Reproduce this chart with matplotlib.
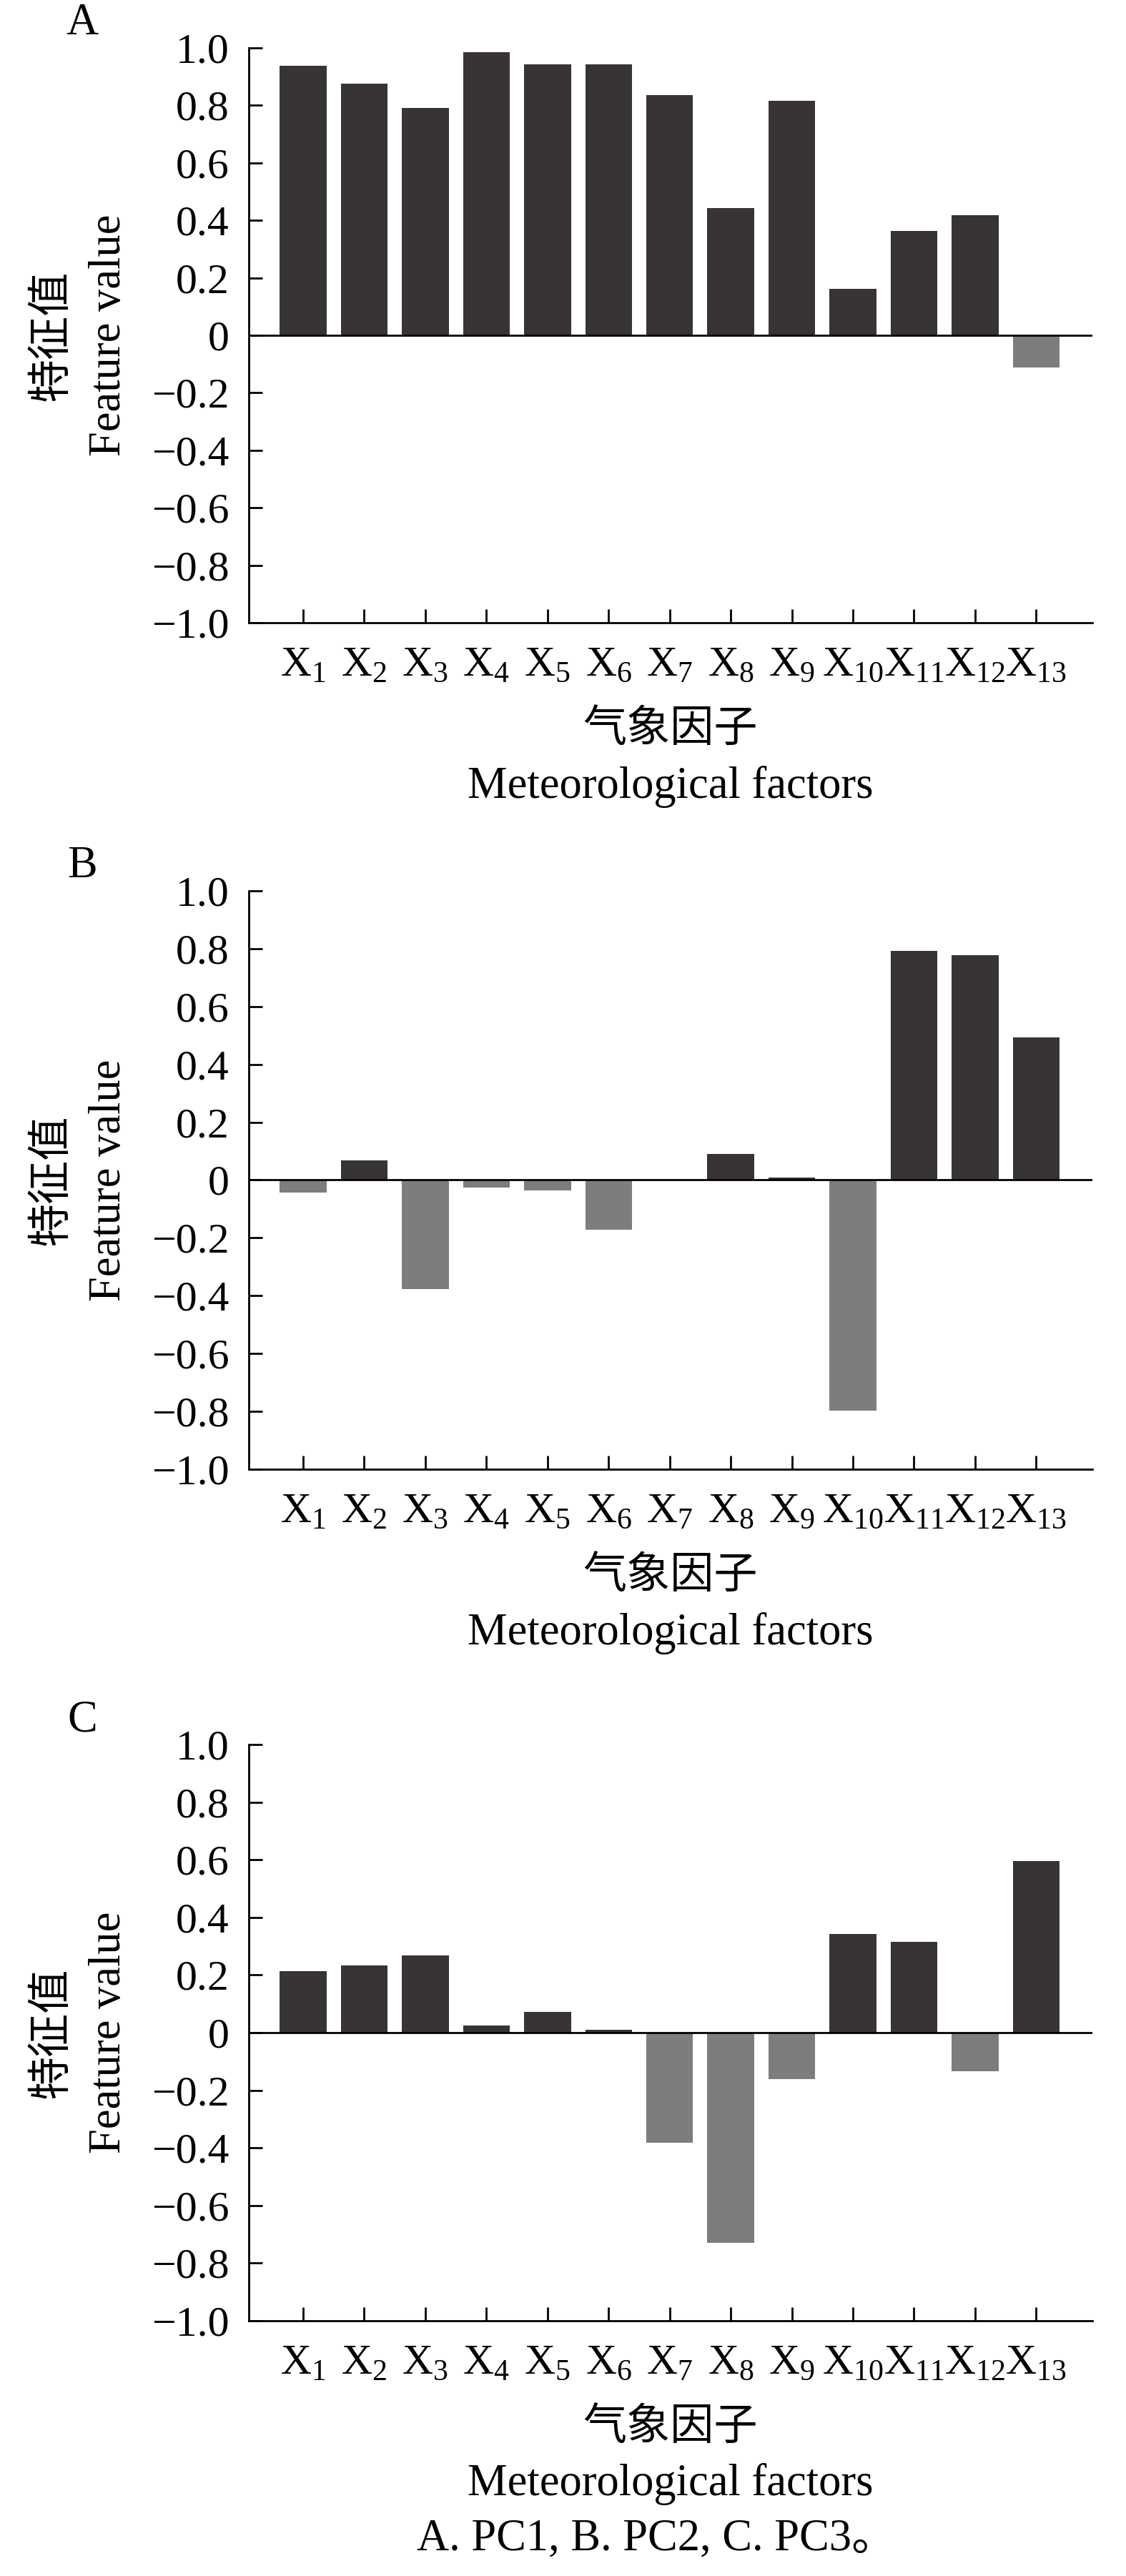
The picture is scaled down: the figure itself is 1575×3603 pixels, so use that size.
import matplotlib
matplotlib.use('Agg')
import matplotlib.pyplot as plt
import numpy as np

plt.rcParams['font.family'] = ['Liberation Serif', 'Noto Sans CJK SC']
plt.rcParams['mathtext.fontset'] = 'custom'
plt.rcParams['mathtext.rm'] = 'Liberation Serif'
plt.rcParams['axes.unicode_minus'] = True

# data
factors = ['X%d' % i for i in range(1, 14)]
pc1 = [0.939, 0.875, 0.791, 0.986, 0.944, 0.943, 0.837, 0.443, 0.817, 0.162, 0.363, 0.418, -0.113]
pc2 = [-0.044, 0.069, -0.376, -0.025, -0.036, -0.171, 0.0, 0.089, 0.009, -0.797, 0.793, 0.777, 0.492]
pc3 = [0.213, 0.234, 0.267, 0.025, 0.073, 0.010, -0.381, -0.730, -0.162, 0.342, 0.315, -0.135, 0.595]
panels = ['A', 'B', 'C']
yticks = [1.0, 0.8, 0.6, 0.4, 0.2, 0.0, -0.2, -0.4, -0.6, -0.8, -1.0]
ytick_labels = ['1.0', '0.8', '0.6', '0.4', '0.2', '0', '\u22120.2', '\u22120.4',
                '\u22120.6', '\u22120.8', '\u22121.0']
caption = 'A. PC1, B. PC2, C. PC3\u3002'

pos_color = '#383435'
neg_color = '#7e7c7d'

W, H = 1575, 3603
left, right = 348, 1528
tops = [67, 1246, 2440]
bottoms = [871, 2055, 3246]

fig = plt.figure(figsize=(W / 100, H / 100), dpi=100)

for k, vals in enumerate([pc1, pc2, pc3]):
    top, bot = tops[k], bottoms[k]
    ax = fig.add_axes([left / W, 1 - bot / H, (right - left) / W, (bot - top) / H])
    x = np.arange(len(factors))
    v = np.array(vals)
    colors = [pos_color if a >= 0 else neg_color for a in v]
    ax.bar(x, v, width=0.765, color=colors, zorder=2)
    ax.axhline(0, color='black', lw=2.0, zorder=3)
    ax.set_xlim(-0.89, 12.92)
    ax.set_ylim(-1.0, 1.0)
    ax.set_yticks(yticks)
    ax.set_yticklabels(ytick_labels)
    ax.set_xticks(x)
    ax.set_xticklabels([r'$\mathrm{X}_{%s}$' % f[1:] for f in factors])
    for s in ['top', 'right']:
        ax.spines[s].set_visible(False)
    for s in ['left', 'bottom']:
        ax.spines[s].set_linewidth(2.0)
    ax.tick_params(axis='both', direction='in', length=13.5, width=2.0, labelsize=43)
    ax.tick_params(axis='y', pad=20)
    ax.tick_params(axis='x', pad=24)
    hpx = bot - top
    ax.text(-0.2328, 0.5, '特征值', transform=ax.transAxes, rotation=90,
            ha='center', va='center', fontsize=44)
    ax.text(-0.1654, 0.5, 'Feature value', transform=ax.transAxes, rotation=90,
            ha='center', va='center', fontsize=45)
    ax.text(0.5, -150 / hpx, '气象因子', transform=ax.transAxes,
            ha='center', va='center', fontsize=44)
    ax.text(0.5, -229 / hpx, 'Meteorological factors', transform=ax.transAxes,
            ha='center', va='center', fontsize=45)
    ax.text(-0.1976, 1 + 34 / hpx, panels[k], transform=ax.transAxes,
            ha='center', va='center', fontsize=45)

fig.text(918 / W, 1 - 3552 / H, caption, ha='center', va='center', fontsize=45)

fig.savefig('out.png', dpi=100)
